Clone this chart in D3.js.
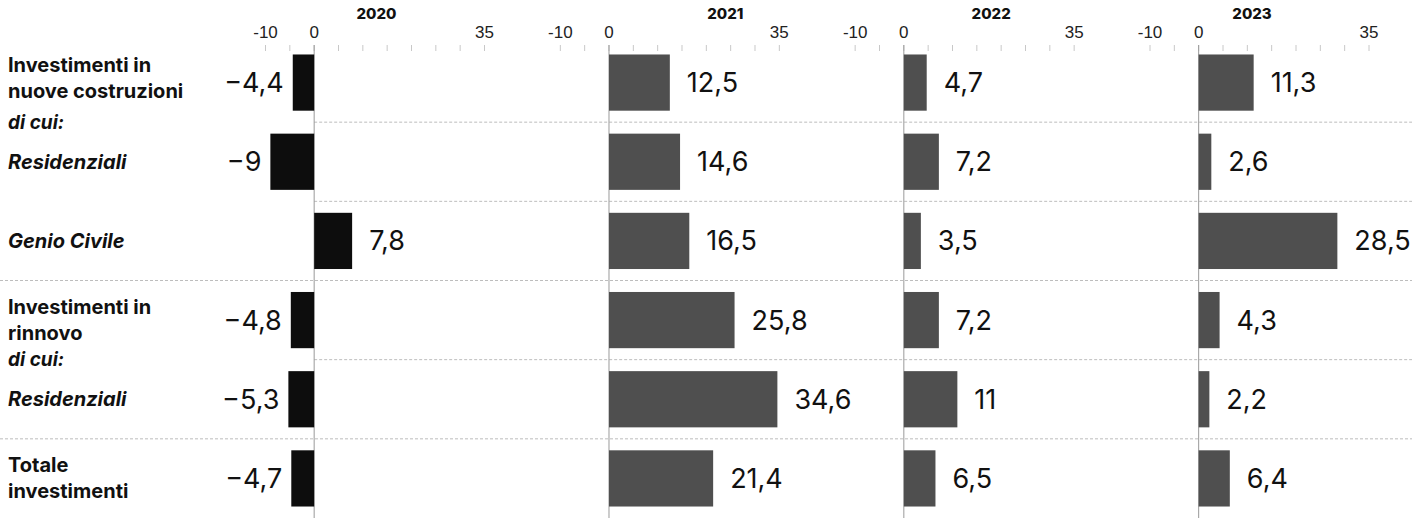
<!DOCTYPE html>
<html>
<head>
<meta charset="utf-8">
<script src="https://cdn.jsdelivr.net/npm/d3@7"></script>
<style>
  html, body { margin: 0; padding: 0; background: #fff; }
  svg { display: block; }
</style>
</head>
<body>
<div id="chart"></div>
<script>
// --- data ---
var years = ["2020", "2021", "2022", "2023"];
var rowKeys = ["nuove", "resNuove", "genio", "rinnovo", "resRinnovo", "totale"];
var rowLabels = [
  ["Investimenti in", "nuove costruzioni"],
  ["Residenziali"],
  ["Genio Civile"],
  ["Investimenti in", "rinnovo"],
  ["Residenziali"],
  ["Totale", "investimenti"]
];
var rowItalic = [false, true, true, false, true, false];
var subHeading = "di cui:";
var subAfter = ["nuove", "rinnovo"];

var values2020 = [-4.4, -9, 7.8, -4.8, -5.3, -4.7];
var values2021 = [12.5, 14.6, 16.5, 25.8, 34.6, 21.4];
var values2022 = [4.7, 7.2, 3.5, 7.2, 11, 6.5];
var values2023 = [11.3, 2.6, 28.5, 4.3, 2.2, 6.4];
var valuesByYear = [values2020, values2021, values2022, values2023];

var xDomain = [-10, 35];
var xTickLabels = [-10, 0, 35];
var xTickMarks = d3.range(-10, 36, 5);

// --- layout ---
var width = 1416, height = 518;
var panelWidth = 219;
var titleOffset = [111, 165, 136, 102];
var fontLabel = "Inter, Roboto, 'Noto Sans', sans-serif";

var svg = d3.select("#chart").append("svg")
    .attr("width", width)
    .attr("height", height);

var panel = d3.scalePoint().domain(years).range([265.5, 1150]);
var x = d3.scaleLinear().domain(xDomain).range([0, panelWidth]);
var y = d3.scaleBand().domain(rowKeys).range([43, 518])
    .paddingInner(0.29).paddingOuter(0.145);
var step = y.step();

function fmt(v) {
  return String(v).replace(".", ",").replace("-", "\u2212");
}

// separators between rows
rowKeys.slice(0, -1).forEach(function (k, i) {
  var yy = y(k) + y.bandwidth() + (step - y.bandwidth()) / 2;
  var partial = subAfter.indexOf(k) >= 0 || k === "resNuove";
  svg.append("line")
      .attr("x1", partial ? panel("2020") + x(0) : 0)
      .attr("x2", 1412)
      .attr("y1", yy).attr("y2", yy)
      .attr("stroke", "#bdbdbd")
      .attr("stroke-width", 1)
      .attr("stroke-dasharray", "3,2");
});

// row labels
rowKeys.forEach(function (k, i) {
  var lines = rowLabels[i];
  var cy = y(k) + y.bandwidth() / 2;
  var t = svg.append("text")
      .attr("x", 8)
      .attr("y", cy - (lines.length - 1) * 13 - (lines.length > 1 && i === 0 ? 5 : 0))
      .style("font-family", fontLabel)
      .style("font-size", "20px")
      .style("font-weight", 700)
      .style("font-style", rowItalic[i] ? "italic" : "normal")
      .attr("fill", "#111");
  lines.forEach(function (l, j) {
    t.append("tspan").attr("x", 8).attr("dy", j === 0 ? "0.35em" : 26).text(l);
  });
  if (subAfter.indexOf(k) >= 0) {
    svg.append("text")
        .attr("x", 8)
        .attr("y", y(k) + y.bandwidth() + (step - y.bandwidth()) / 2)
        .attr("dy", "0.35em")
        .style("font-family", fontLabel)
        .style("font-size", "19px")
        .style("font-weight", 700)
        .style("font-style", "italic")
        .attr("fill", "#111")
        .text(subHeading);
  }
});

// panels
years.forEach(function (yr, p) {
  var g = svg.append("g").attr("transform", "translate(" + panel(yr) + ",0)");
  var vals = valuesByYear[p];

  g.append("text")
      .attr("x", titleOffset[p])
      .attr("y", 19)
      .attr("text-anchor", "middle")
      .style("font-family", fontLabel)
      .style("font-size", "15px")
      .style("font-weight", 800)
      .attr("fill", "#111")
      .text(yr);

  g.selectAll(".tl").data(xTickLabels).enter().append("text")
      .attr("x", function (d) { return x(d); })
      .attr("y", 38)
      .attr("text-anchor", "middle")
      .style("font-family", "'Liberation Sans', Arial, sans-serif")
      .style("font-size", "17px")
      .attr("fill", "#222")
      .text(function (d) { return d; });

  g.selectAll(".tm").data(xTickMarks).enter().append("line")
      .attr("x1", function (d) { return x(d); })
      .attr("x2", function (d) { return x(d); })
      .attr("y1", 45).attr("y2", 51)
      .attr("stroke", "#c8c8c8")
      .attr("stroke-width", 1);

  // zero line
  g.append("line")
      .attr("x1", x(0)).attr("x2", x(0))
      .attr("y1", 45).attr("y2", height)
      .attr("stroke", "#9a9a9a")
      .attr("stroke-width", 1);

  var fill = p === 0 ? "#0d0d0d" : "#4f4f4f";
  g.selectAll(".bar").data(vals).enter().append("rect")
      .attr("x", function (d) { return x(Math.min(0, d)); })
      .attr("y", function (d, i) { return y(rowKeys[i]); })
      .attr("width", function (d) { return Math.abs(x(d) - x(0)); })
      .attr("height", y.bandwidth())
      .attr("fill", fill);

  g.selectAll(".val").data(vals).enter().append("text")
      .attr("x", function (d) { return d < 0 ? x(d) - 9 : x(d) + 17; })
      .attr("y", function (d, i) { return y(rowKeys[i]) + y.bandwidth() / 2; })
      .attr("dy", "0.35em")
      .attr("text-anchor", function (d) { return d < 0 ? "end" : "start"; })
      .style("font-family", fontLabel)
      .style("font-size", "27px")
      .attr("fill", "#111")
      .text(function (d) { return fmt(d); })
      .each(function () {
        var el = d3.select(this);
        if (el.attr("text-anchor") === "start") {
          var w = this.getComputedTextLength();
          var maxX = width - 3 - panel(yr);
          if (+el.attr("x") + w > maxX) el.attr("x", maxX - w);
        }
      });
});
</script>
</body>
</html>
